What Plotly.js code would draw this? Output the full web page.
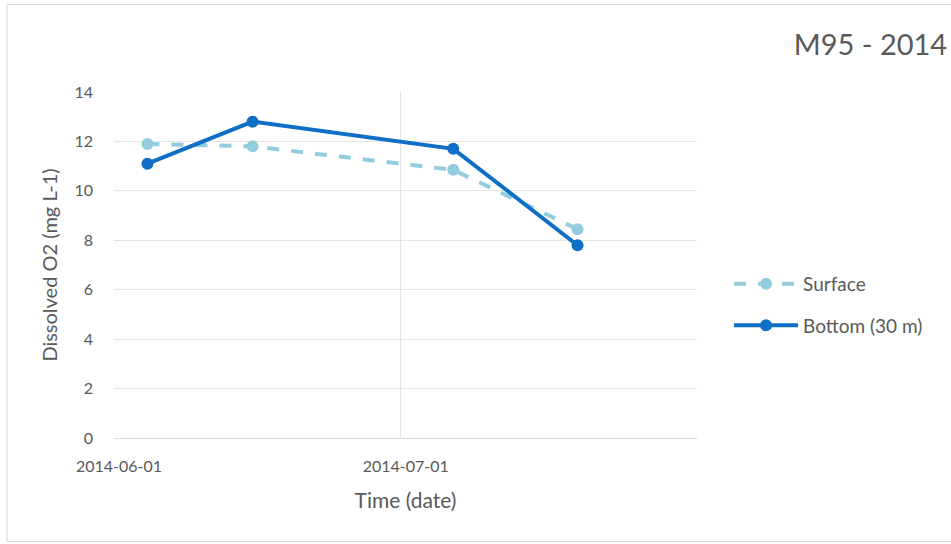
<!DOCTYPE html>
<html>
<head>
<meta charset="utf-8">
<script src="https://cdn.plot.ly/plotly-3.0.1.min.js"></script>
<style>html,body{margin:0;padding:0;background:#fff;}#chart{width:951px;height:544px;}</style>
</head>
<body>
<div id="chart"></div>
<script>
// Sampling dates (points sit mid-day on Excel's date axis)
var dates = ["2014-06-04 12:00", "2014-06-15 12:00", "2014-07-06 12:00", "2014-07-19 12:00"];
var surface = [11.9, 11.8, 10.85, 8.45];
var bottom = [11.1, 12.8, 11.7, 7.8];
var seriesNames = ["Surface", "Bottom (30 m)"];
var yTicks = [0, 2, 4, 6, 8, 10, 12, 14];
var xTicks = ["2014-06-01", "2014-07-01"];
var xTickText = ["2014-06-01", "2014-07-01"];

var fontFam = "Lato, 'Open Sans', sans-serif";
var textCol = "#595959";

var traces = [
  {
    x: dates, y: surface, name: seriesNames[0], type: "scatter", mode: "lines+markers",
    line: {color: "#93cddd", width: 4, dash: "dash"},
    marker: {color: "#93cddd", size: 12},
    legendgroup: "a"
  },
  {
    x: dates, y: bottom, name: seriesNames[1], type: "scatter", mode: "lines+markers",
    line: {color: "#0f6fc6", width: 4},
    marker: {color: "#0f6fc6", size: 12},
    legendgroup: "b"
  }
];

var borderLine = {color: "#d9d9d9", width: 1};
var layout = {
  width: 951, height: 544,
  margin: {l: 114, r: 254, t: 92, b: 106},
  paper_bgcolor: "#fff", plot_bgcolor: "#fff",
  font: {family: fontFam, color: textCol},
  title: {text: "M95 - 2014", font: {size: 29, color: textCol, family: fontFam},
          x: 0.996, xanchor: "right", xref: "container", y: 0.918, yanchor: "middle"},
  xaxis: {
    type: "date", range: ["2014-06-01", "2014-08-01"],
    tickvals: xTicks, ticktext: xTickText,
    showgrid: true, gridcolor: "#e3e3e3", gridwidth: 1,
    showline: true, linecolor: "#d9d9d9", linewidth: 1,
    zeroline: false, ticks: "", ticklabelshift: 5, ticklabelstandoff: 14,
    tickfont: {size: 16, color: textCol},
    title: {text: "Time (date)", font: {size: 21, color: textCol}, standoff: 19},
    fixedrange: true
  },
  yaxis: {
    range: [0, 14], tickvals: yTicks,
    showgrid: true, gridcolor: "#e3e3e3", gridwidth: 1,
    zeroline: false, showline: false, ticks: "",
    ticklabelstandoff: 20,
    tickfont: {size: 16, color: textCol},
    title: {text: "Dissolved O2 (mg L-1)", font: {size: 20, color: textCol}, standoff: 11},
    fixedrange: true
  },
  legend: {
    x: 1.055, xanchor: "left", y: 0.385, yanchor: "middle",
    font: {size: 19, color: textCol},
    traceorder: "grouped", tracegroupgap: 14, itemwidth: 64,
    bgcolor: "rgba(0,0,0,0)"
  },
  shapes: [
    {type: "line", xref: "paper", yref: "paper", x0: -0.1835, x1: 1.5, y0: 1.253, y1: 1.253, line: borderLine, layer: "below"},
    {type: "line", xref: "paper", yref: "paper", x0: -0.1835, x1: -0.1835, y0: -0.299, y1: 1.253, line: borderLine, layer: "below"},
    {type: "line", xref: "paper", yref: "paper", x0: -0.1835, x1: 1.5, y0: -0.299, y1: -0.299, line: borderLine, layer: "below"}
  ],
  showlegend: true
};

Plotly.newPlot("chart", traces, layout, {displayModeBar: false, staticPlot: true});
</script>
</body>
</html>
